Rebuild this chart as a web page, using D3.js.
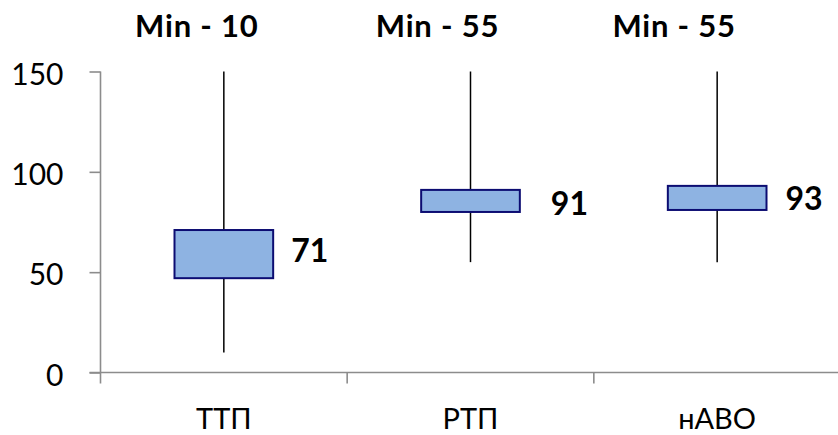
<!DOCTYPE html>
<html>
<head>
<meta charset="utf-8">
<script src="https://cdn.jsdelivr.net/npm/d3@7"></script>
<style>
  html, body { margin: 0; padding: 0; background: #fff; }
  svg { display: block; }
</style>
</head>
<body>
<svg id="chart" width="838" height="435"></svg>
<script>
// Box-plot data per category
const categories = ["ТТП", "РТП", "нАВО"];
const whiskerLow = [10, 55, 55];
const whiskerHigh = [150, 150, 150];
const boxLow = [47, 80, 81];
const boxHigh = [71, 91, 93];
const topTitles = ["Min - 10", "Min - 55", "Min - 55"];
const yTicks = [0, 50, 100, 150];

// Layout (pixel placement of annotations relative to each band centre)
const titleOffset = [-27, -33, -43];
const valueLabelDx = [18, 31, 19];
const valueLabelDy = [0, 6, 4];

const W = 838, H = 435;
const plotLeft = 100.5, plotRight = 840.5, plotTop = 71.5, plotBottom = 372.5;
const svg = d3.select("#chart");
const axisColor = "#8c8c8c";
const font = "Lato, 'Carlito', Calibri, sans-serif";

const y = d3.scaleLinear().domain([0, 150]).range([plotBottom, plotTop]);
const x = d3.scaleBand().domain(categories).range([plotLeft, plotRight]).padding(0);
const bw = x.bandwidth();
const boxW = bw * 0.4;
const cx = c => x(c) + bw / 2;

// Y axis
const yAxis = svg.append("g").attr("transform", `translate(${plotLeft},0)`)
  .call(d3.axisLeft(y).tickValues(yTicks).tickSize(11).tickPadding(26).tickFormat(d3.format("d")));
yAxis.select(".domain").attr("d", `M0,${plotTop}V${plotBottom}`).attr("stroke", axisColor).attr("stroke-width", 1.6);
yAxis.selectAll(".tick line").attr("stroke", axisColor).attr("stroke-width", 1.6);
yAxis.selectAll(".tick text")
  .attr("fill", "#000").attr("font-family", font).attr("font-size", 30)
  .attr("dy", "0.42em");

// X axis with ticks at band boundaries
const xg = svg.append("g").attr("transform", `translate(0,${plotBottom})`);
xg.append("line").attr("x1", plotLeft - 11).attr("x2", W).attr("y1", 0).attr("y2", 0)
  .attr("stroke", axisColor).attr("stroke-width", 1.6);
const bounds = categories.map(c => x(c)).concat([plotRight]);
xg.selectAll("line.xt").data(bounds).enter().append("line").attr("class", "xt")
  .attr("x1", d => d).attr("x2", d => d).attr("y1", 0).attr("y2", 11)
  .attr("stroke", axisColor).attr("stroke-width", 1.6);
xg.selectAll("text").data(categories).enter().append("text")
  .attr("x", d => cx(d)).attr("y", 56)
  .attr("text-anchor", "middle").attr("font-family", font).attr("font-size", 29)
  .attr("fill", "#000").text(d => d);

// Whiskers
svg.selectAll("line.whisker").data(categories).enter().append("line").attr("class", "whisker")
  .attr("x1", d => cx(d)).attr("x2", d => cx(d))
  .attr("y1", (d, i) => y(whiskerHigh[i])).attr("y2", (d, i) => y(whiskerLow[i]))
  .attr("stroke", "#000").attr("stroke-width", 1.5);

// Boxes
svg.selectAll("rect.box").data(categories).enter().append("rect").attr("class", "box")
  .attr("x", d => cx(d) - boxW / 2)
  .attr("y", (d, i) => y(boxHigh[i]))
  .attr("width", boxW)
  .attr("height", (d, i) => y(boxLow[i]) - y(boxHigh[i]))
  .attr("fill", "#8eb3e2").attr("stroke", "#0c0c72").attr("stroke-width", 2);

// Value labels (upper box edge)
svg.selectAll("text.val").data(categories).enter().append("text").attr("class", "val")
  .attr("x", (d, i) => cx(d) + boxW / 2 + valueLabelDx[i])
  .attr("y", (d, i) => (y(boxHigh[i]) + y(boxLow[i])) / 2 + valueLabelDy[i] + 8)
  .attr("font-family", font).attr("font-weight", "bold").attr("font-size", 32)
  .attr("fill", "#000").text((d, i) => boxHigh[i]);

// Titles above each category
svg.selectAll("text.title").data(categories).enter().append("text").attr("class", "title")
  .attr("x", (d, i) => cx(d) + titleOffset[i]).attr("y", 37)
  .attr("text-anchor", "middle").attr("font-family", font).attr("font-weight", "bold")
  .attr("font-size", 31).attr("letter-spacing", "0.8px")
  .attr("fill", "#000").text((d, i) => topTitles[i]);
</script>
</body>
</html>
